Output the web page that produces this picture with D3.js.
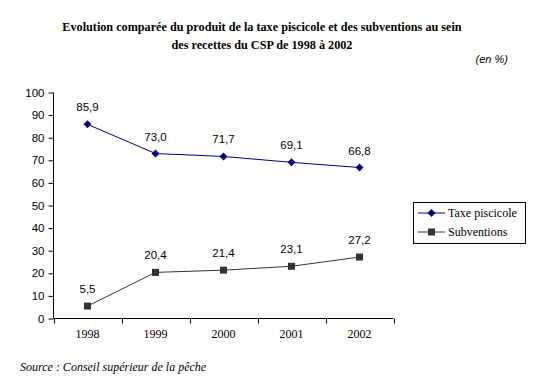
<!DOCTYPE html>
<html><head><meta charset="utf-8">
<script src="https://cdn.jsdelivr.net/npm/d3@7"></script>
<style>body{margin:0;background:#fff}</style>
</head><body>
<script>
const years = ["1998","1999","2000","2001","2002"];
const taxe = [85.9, 73.0, 71.7, 69.1, 66.8];
const subv = [5.5, 20.4, 21.4, 23.1, 27.2];
const yTicks = [0,10,20,30,40,50,60,70,80,90,100];
const seriesNames = ["Taxe piscicole","Subventions"];

const W=536,H=388;
const svg=d3.select("body").append("svg").attr("width",W).attr("height",H);
const x=d3.scaleBand().domain(years).range([53.5,393.5]);
const y=d3.scaleLinear().domain([0,100]).range([318.5,92.5]);
const fmt=v=>v.toFixed(1).replace(".",",");

// title
const t=svg.append("text").attr("text-anchor","middle").attr("font-family","Liberation Serif").attr("font-weight","bold").attr("font-size","12.2px").attr("fill","#000");
t.append("tspan").attr("x",262).attr("y",31).text("Evolution comparée du produit de la taxe piscicole et des subventions au sein");
t.append("tspan").attr("x",262).attr("y",49).text("des recettes du CSP de 1998 à 2002");
svg.append("text").attr("x",508).attr("y",63).attr("text-anchor","end").attr("font-family","Liberation Sans").attr("font-style","italic").attr("font-size","11px").text("(en %)");

// y axis
const ya=svg.append("g").attr("transform","translate(53.5,0)").call(d3.axisLeft(y).tickValues(yTicks).tickSize(5).tickPadding(4).tickFormat(d3.format("d")));
ya.select(".domain").attr("stroke","#000").attr("d","M0,92.5V318.5");
ya.selectAll("line").attr("stroke","#000");
ya.selectAll("text").attr("font-family","Liberation Sans").attr("font-size","11.5px").attr("fill","#000");

// x axis
const xa=svg.append("g").attr("transform","translate(0,318.5)").call(d3.axisBottom(x).tickSize(0).tickPadding(11));
xa.select(".domain").attr("stroke","#000").attr("d","M53.5,0H393.5");
xa.selectAll("text").attr("font-family","Liberation Serif").attr("font-size","12px").attr("fill","#000");
const bounds=[...years.map(d=>x(d)),x(years[years.length-1])+x.bandwidth()];
xa.selectAll(".bt").data(bounds).enter().append("line").attr("x1",d=>Math.round(d)+0.5).attr("x2",d=>Math.round(d)+0.5).attr("y1",0).attr("y2",5).attr("stroke","#000");

const cx=d=>x(d)+x.bandwidth()/2;
const line=d3.line().x((d,i)=>cx(years[i])).y(d=>y(d));
const series=[{v:taxe,c:"#000080",m:"diamond"},{v:subv,c:"#333333",m:"square"}];
series.forEach(s=>{
  svg.append("path").attr("d",line(s.v)).attr("fill","none").attr("stroke",s.c).attr("stroke-width",1);
  s.v.forEach((v,i)=>{
    const px=cx(years[i]),py=y(v);
    if(s.m==="diamond") svg.append("path").attr("d",`M${px},${py-4}L${px+4},${py}L${px},${py+4}L${px-4},${py}Z`).attr("fill",s.c);
    else svg.append("rect").attr("x",px-3.5).attr("y",py-3.5).attr("width",7).attr("height",7).attr("fill",s.c);
    svg.append("text").attr("x",px).attr("y",py-13).attr("text-anchor","middle").attr("font-family","Liberation Sans").attr("font-size","11.5px").attr("fill","#000").text(fmt(v));
  });
});

// legend
const lg=svg.append("g");
lg.append("rect").attr("x",413.5).attr("y",202.5).attr("width",112).attr("height",41).attr("fill","#fff").attr("stroke","#000");
series.forEach((s,i)=>{
  const ly=213+i*19;
  lg.append("line").attr("x1",418).attr("x2",445).attr("y1",ly).attr("y2",ly).attr("stroke",s.c).attr("stroke-width",1);
  const px=431.5;
  if(s.m==="diamond") lg.append("path").attr("d",`M${px},${ly-4}L${px+4},${ly}L${px},${ly+4}L${px-4},${ly}Z`).attr("fill",s.c);
  else lg.append("rect").attr("x",px-3.5).attr("y",ly-3.5).attr("width",7).attr("height",7).attr("fill",s.c);
  lg.append("text").attr("x",448).attr("y",ly+4).attr("font-family","Liberation Serif").attr("font-size","12px").attr("fill","#000").text(seriesNames[i]);
});

svg.append("text").attr("x",20).attr("y",371).attr("font-family","Liberation Serif").attr("font-style","italic").attr("font-size","12px").text("Source : Conseil supérieur de la pêche");
</script>
</body></html>
